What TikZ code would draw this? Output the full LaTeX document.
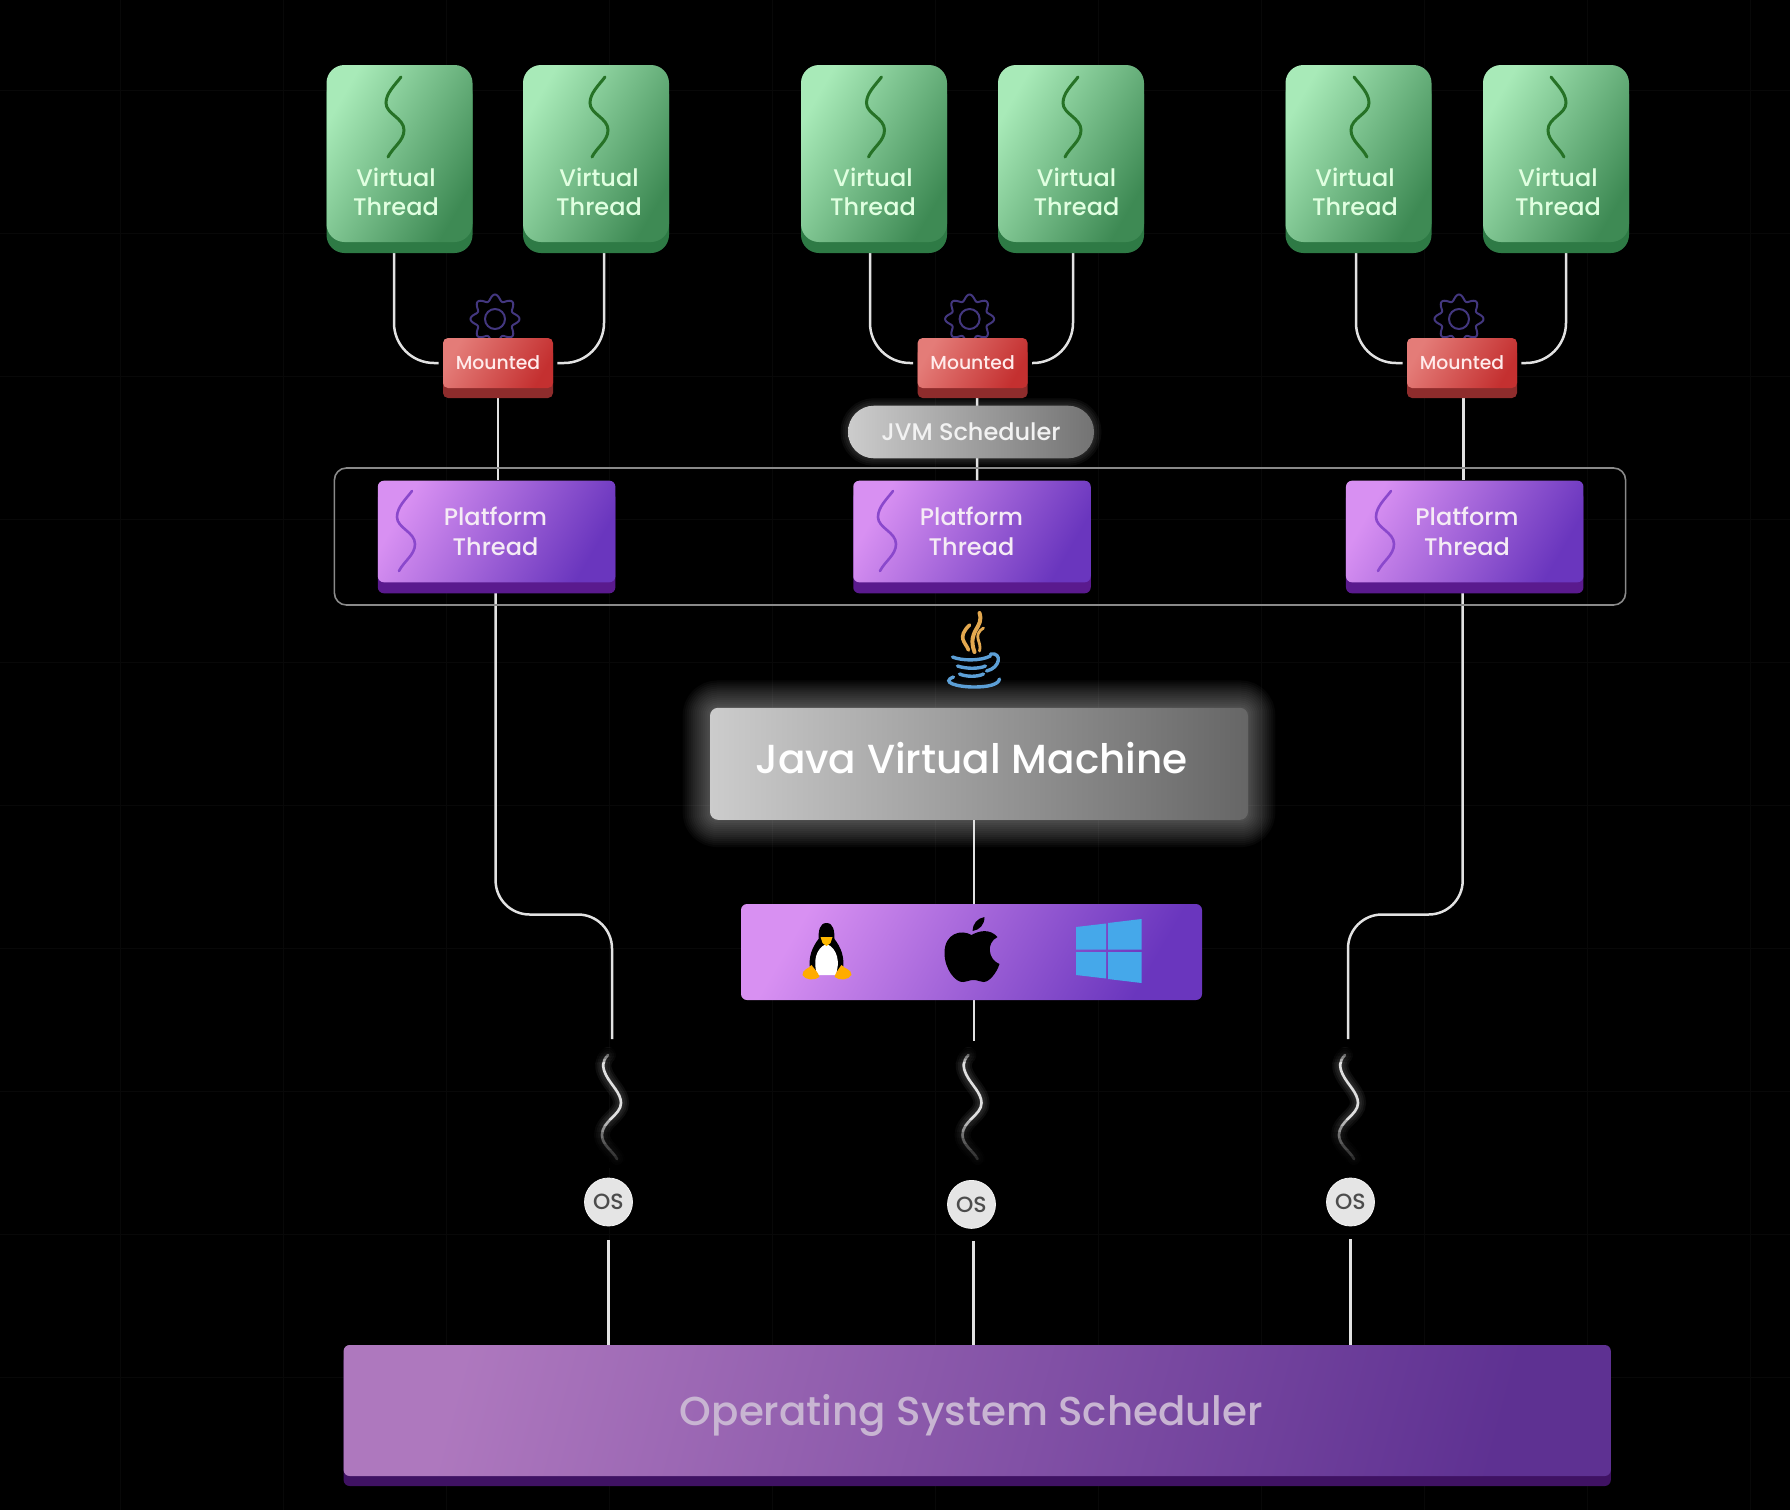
\documentclass[tikz,border=0pt]{standalone}
\usepackage{fontspec}
\setmainfont{Poppins Medium}
\usetikzlibrary{calc,backgrounds,positioning}
\definecolor{wirecol}{HTML}{E2E2E2}
\definecolor{framecol}{HTML}{8A8A8A}
\definecolor{vta}{HTML}{A8EAB8}
\definecolor{vtb}{HTML}{3E8A54}
\definecolor{vtc}{HTML}{2E7A45}
\definecolor{mta}{HTML}{E47C78}
\definecolor{mtb}{HTML}{C43030}
\definecolor{mtc}{HTML}{8E2C2C}
\definecolor{osa}{HTML}{D890F2}
\definecolor{osb}{HTML}{6A36BE}
\definecolor{osc}{HTML}{5A1A8E}
\definecolor{flamecol}{HTML}{E3A84F}
\definecolor{cupcol}{HTML}{5C9FD6}
\tikzset{
  wire/.style={wirecol, line width=1.25pt},
  vbox/.style={rounded corners=9pt, minimum width=73pt, minimum height=88.5pt,
    left color=vta, right color=vtb, shading angle=60,
    preaction={fill=vtc, transform canvas={yshift=-5.5pt}}},
  mbox/.style={rounded corners=2.5pt, minimum width=55pt, minimum height=25pt,
    left color=mta, right color=mtb, shading angle=60,
    text=white!92!red, font=\fontsize{9.4}{11}\selectfont,
    preaction={fill=mtc, transform canvas={yshift=-5pt}}},
  bar/.style={rounded corners=3pt, left color=osa, right color=osb, shading angle=60},
  pbox/.style={bar, minimum width=118.75pt, minimum height=50.8pt,
    preaction={fill=osc, transform canvas={yshift=-5.5pt}}},
  vtext/.style={align=center, text=green!12!white, font=\fontsize{12}{14.8}\selectfont},
  ptext/.style={align=center, text=violet!8!white, font=\fontsize{12}{14.8}\selectfont},
  osnode/.style={circle, fill=black!10, draw=black!5, minimum size=24pt, inner sep=0pt,
    text=black!70, font=\fontsize{11}{11}\selectfont},
  squig/.pic={\draw[pic actions, line cap=round] (6,-40) .. controls (0,-32) and (-9,-24) .. (-9,-14)
      .. controls (-9,-3) and (9,1) .. (9,13) .. controls (9,24) and (-2,30) .. (-7,40);},
  oswave/.pic={\draw[pic actions, line cap=round] (-3,-52) .. controls (-9,-46) and (-9,-40) .. (-5,-32)
      .. controls (0,-22) and (10,-14) .. (10,-4) .. controls (10,8) and (-9,14) .. (-9,28) .. controls (-9,38) and (2,44) .. (6,52);},
  gear/.pic={\draw[pic actions] plot[domain=0:360, samples=121, smooth]
      ({(21.5+3*cos(8*\x))*cos(\x)},{(21.5+3*cos(8*\x))*sin(\x)});
    \draw[pic actions] (0,0) circle (10);}
}
\begin{document}
\begin{tikzpicture}[x=.5pt,y=-.5pt]
\useasboundingbox (0,0) rectangle (1790,1510);
\begin{scope}[on background layer]
\fill[black] (0,0) rectangle (1790,1510);
\foreach \x in {120,283,...,1790} \draw[black!97!white, line width=.4pt] (\x,0)--(\x,1510);
\foreach \y in {90,233,...,1510} \draw[black!97!white, line width=.4pt] (0,\y)--(1790,\y);
\end{scope}

% group round the platform threads
\node[draw=framecol, line width=.8pt, rounded corners=6pt, minimum width=645.6pt, minimum height=68.5pt] (frame) at (980,536.5) {};

% virtual threads
\foreach \i/\x/\tx/\sx/\flip in {1/399.5/396/395/1,2/596/599/599/1,3/874/873/875.5/1,4/1071/1076.5/1072/1,5/1358.5/1355/1360/-1,6/1556/1558/1557/-1} {
  \node[vbox] (v\i) at (\x,153.5) {};
  \node[vtext] (vt\i) at (\tx,192) {Virtual\\Thread};
  \pic[draw=green!35!black!85!white, line width=1.5pt, xscale=\flip] at (\sx,117) {squig};
}
% mounted boxes and their gears
\definecolor{gearcol}{HTML}{43377F}
\foreach \i/\x in {1/498,2/972.6,3/1462} {
  \pic[draw=gearcol, line width=1pt] at (\x-3,319) {gear};
  \node[mbox] (m\i) at (\x,363) {Mounted};
}
% platform threads
\definecolor{pwave}{HTML}{8A48CC}
\foreach \i/\x/\tx/\sx in {1/496.6/495.5/406,2/972/971.5/887,3/1464.7/1467/1385} {
  \node[pbox] (p\i) at (\x,531.5) {};
  \node[ptext] (pt\i) at (\tx,531.5) {Platform\\Thread};
  \pic[draw=pwave, line width=1.3pt] at (\sx,531) {squig};
}
\node[rounded corners=13pt, minimum width=123pt, minimum height=26.3pt, left color=black!20, right color=black!55,
  text=white!95!black, font=\fontsize{12}{13}\selectfont] (sched) at (971,432) {JVM Scheduler};
\node[rounded corners=4pt, minimum width=269pt, minimum height=56pt, left color=black!20, right color=black!60] (jvm) at (979,763.8) {};
\node[text=white, font=\fontsize{20.3}{22}\selectfont] (jvmt) at (971.5,758) {Java Virtual Machine};
\node[bar, minimum width=230.5pt, minimum height=48pt] (osbar) at (971.5,952) {};
\node[osnode] (os1) at (608.5,1202) {OS};
\node[osnode] (os2) at (971.5,1204.4) {OS};
\node[osnode] (os3) at (1350.5,1202) {OS};
\definecolor{ssa}{HTML}{AE78BE}
\definecolor{ssb}{HTML}{5E3192}
\node[rounded corners=3pt, minimum width=633.6pt, minimum height=65.5pt, left color=ssa,
  right color=ssb, shading angle=75,
  preaction={fill=osc!70!black, transform canvas={yshift=-5pt}}] (ossched) at (977.2,1410.5) {};
\definecolor{sstext}{HTML}{C8B5D2}
\node[text=sstext, font=\fontsize{20.2}{22}\selectfont] (osschedt) at (971.5,1415.5) {Operating System Scheduler};

% free ends above the thread squiggles
\coordinate (e1) at (612,1039);
\coordinate (e2) at (973.8,1041);
\coordinate (e3) at (1348,1039);
\coordinate (b1) at (612,914.5);
\coordinate (b3) at (1348,914.5);

\begin{scope}[on background layer]
\foreach \w in {1,3,...,27} {
  \draw[white, opacity=.028, line width=\w pt, line join=round, rounded corners=4pt] (jvm.south west) rectangle (jvm.north east);
}
\foreach \w in {1,3,5,7} {
  \draw[white, opacity=.04, line width=\w pt, line join=round, rounded corners=13pt] (sched.south west) rectangle (sched.north east);
}
% connectors
\foreach \i/\m/\dx in {1/1/-5.5,2/1/8,3/2/-4,4/2/2,5/3/-2.5,6/3/10} {
  \ifodd\i
    \draw[wire, rounded corners=20pt, shorten >=2pt] ($(v\i.south)+(\dx,0)$) |- (m\m.west);
  \else
    \draw[wire, rounded corners=20pt, shorten >=2pt] ($(v\i.south)+(\dx,0)$) |- (m\m.east);
  \fi
}
\draw[wire] (m1.south) -- (m1.south |- p1.north);
\draw[wire] ($(m2.south)+(4.5,0)$) -- ($(p2.north)+(5,0)$);
\draw[wire] ($(m3.south)+(1.5,0)$) -- ($(m3.south |- p3.north)+(1.5,0)$);
\draw[wire, rounded corners=17pt] ($(p1.south)+(-1,0)$) |- (b1) -- (e1);
\draw[wire, rounded corners=17pt] ($(p3.south)+(-2,0)$) |- (b3) -- (e3);
\draw[wire] (jvm.south -| e2) -- (osbar.north -| e2);
\draw[wire] (osbar.south -| e2) -- (e2);
\draw[wire, shorten <=7pt] (os1.south) -- (os1.south |- ossched.north);
\draw[wire, shorten <=6pt] ($(os2.south)+(2,0)$) -- ($(os2.south |- ossched.north)+(2,0)$);
\draw[wire, shorten <=6.5pt] (os3.south) -- (os3.south |- ossched.north);
\end{scope}

% os threads, dimmed towards both ends
\foreach \x in {611,971.5,1348} {
  \foreach \w in {2,4,6,8} \pic[draw=white, opacity=.05, line width=\w pt] at (\x,1107) {oswave};
  \pic[draw=black!12, line width=1.3pt] at (\x,1107) {oswave};
  \foreach \k in {1,...,4} \fill[black, opacity=.22] (\x-24,1048) rectangle (\x+24,1050+3*\k);
  \foreach \k in {1,...,8} \fill[black, opacity=.2] (\x-24,1168) rectangle (\x+24,1168-6*\k);
}

% java logo
\begin{scope}[shift={(972.5,650)}]
\draw[flamecol, line width=2pt, line cap=round] (7,-37) .. controls (12,-22) and (-6,-20) .. (2,2);
\draw[flamecol, line width=1.8pt, line cap=round] (-3,-25) .. controls (-16,-12) and (-7,-8) .. (-4,0);
\draw[flamecol, line width=1.4pt, line cap=round] (11,-22) .. controls (-1,-14) and (10,-8) .. (7,1);
\draw[cupcol, line width=1.7pt, line cap=round]
  (-20,7) .. controls (-10,11) and (8,11) .. (18,6)
  (-15,16) .. controls (-6,19) and (6,19) .. (13,16)
  (-13,24) .. controls (-6,27) and (5,27) .. (11,24)
  (18,4) .. controls (30,2) and (28,18) .. (14,21)
  (-19,27) .. controls (-32,32) and (-16,37) .. (2,37) .. controls (14,37) and (26,35) .. (27,29);
\end{scope}

% linux
\begin{scope}[shift={(826.5,951)}]
\fill[black] (0,-28) .. controls (-7,-28) and (-8,-20) .. (-8,-12) .. controls (-14,-4) and (-19,6) .. (-16,20) -- (16,20) .. controls (19,6) and (14,-4) .. (8,-12) .. controls (8,-20) and (7,-28) .. (0,-28) -- cycle;
\fill[white] (0,-7) .. controls (-11,-3) and (-14,12) .. (-9,24) -- (9,24) .. controls (14,12) and (11,-3) .. (0,-7) -- cycle;
\fill[orange!55!yellow] (-6,-14) -- (6,-14) -- (4,-8) -- (0,-5) -- (-4,-8) -- cycle;
\fill[orange!65!yellow] (-15,14) .. controls (-18,18) and (-24,18) .. (-24,24) .. controls (-22,29) and (-12,30) .. (-7,26) .. controls (-8,22) and (-12,18) .. (-15,14) -- cycle;
\fill[orange!65!yellow] (15,14) .. controls (18,18) and (25,18) .. (25,24) .. controls (22,29) and (13,30) .. (8,26) .. controls (9,22) and (12,18) .. (15,14) -- cycle;
\end{scope}

% apple
\begin{scope}[shift={(971.5,951)}]
\fill[black] (0,-16) .. controls (-10,-22) and (-27,-18) .. (-27,2) .. controls (-27,18) and (-16,32) .. (-8,31) .. controls (-4,31) and (-3,29) .. (2,29)
  .. controls (7,29) and (8,31) .. (12,31) .. controls (18,31) and (25,22) .. (28,13) .. controls (17,9) and (14,-8) .. (26,-14) .. controls (18,-23) and (7,-20) .. (0,-16) -- cycle;
\fill[black] (1,-20) .. controls (1,-27) and (6,-33) .. (13,-34) .. controls (13,-26) and (8,-21) .. (1,-20) -- cycle;
\end{scope}

% windows
\definecolor{winblue}{HTML}{45A8EA}
\fill[winblue] (1076,927) -- (1106,923.5) -- (1106,949.5) -- (1076,949.5) -- cycle;
\fill[winblue] (1108,923) -- (1141.5,919) -- (1141.5,949.5) -- (1108,949.5) -- cycle;
\fill[winblue] (1076,952) -- (1106,952) -- (1106,978.5) -- (1076,975) -- cycle;
\fill[winblue] (1108,952) -- (1141.5,952) -- (1141.5,983) -- (1108,979) -- cycle;
\end{tikzpicture}
\end{document}
